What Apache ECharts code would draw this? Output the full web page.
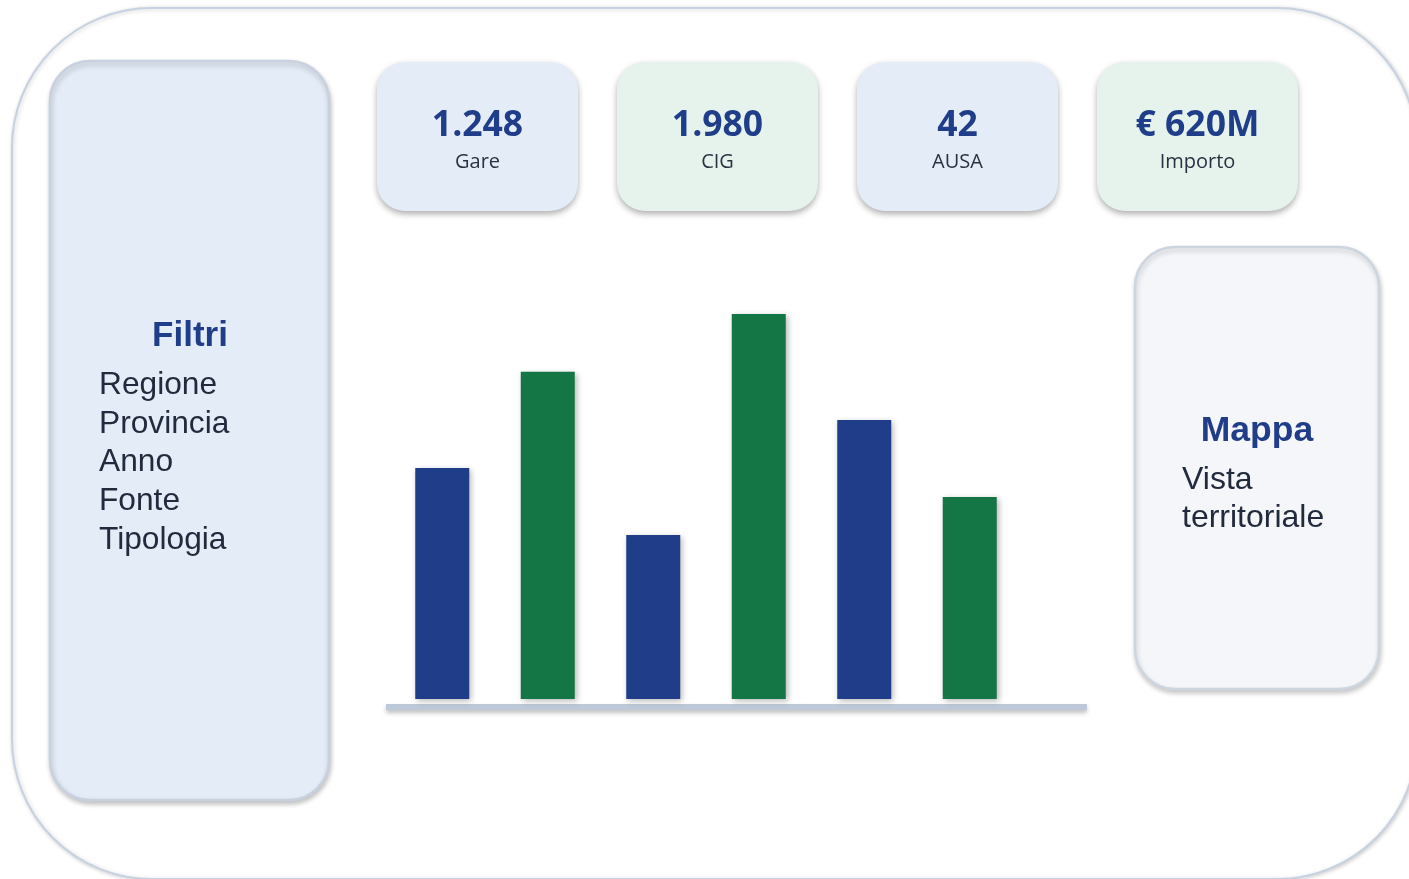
<!DOCTYPE html>
<html>
<head>
<meta charset="utf-8">
<script src="https://cdn.jsdelivr.net/npm/echarts@6/dist/echarts.min.js"></script>
<style>
html,body{margin:0;padding:0;background:#fff;}
#chart{width:1409px;height:879px;}
</style>
</head>
<body>
<div id="chart"></div>
<script>
// ---- data ----
var categories = ['A', 'B', 'C', 'D', 'E', 'F'];
var barValues = [60, 85, 42.6, 100, 72.5, 52.5];
var barColors = ['#1f3d89', '#147545', '#1f3d89', '#147545', '#1f3d89', '#147545'];
var kpiValues = ['1.248', '1.980', '42', '€ 620M'];
var kpiLabels = ['Gare', 'CIG', 'AUSA', 'Importo'];
var filterTitle = 'Filtri';
var filterItems = ['Regione', 'Provincia', 'Anno', 'Fonte', 'Tipologia'];
var mapTitle = 'Mappa';
var mapLines = ['Vista', 'territoriale'];

// ---- layout ----
var chart = echarts.init(document.getElementById('chart'), null, {renderer: 'canvas'});
var graphics = [];

// outer frame
graphics.push({
  type: 'rect', z: 0,
  shape: {x: 12, y: 8, width: 1405, height: 871, r: 140},
  style: {fill: '#ffffff', stroke: '#c6d1e2', lineWidth: 2,
    shadowBlur: 4, shadowColor: 'rgba(0,0,0,0.18)', shadowOffsetX: 1, shadowOffsetY: 1}
});

// filter panel
graphics.push({
  type: 'rect', z: 1,
  shape: {x: 50, y: 61, width: 279, height: 739, r: 40},
  style: {fill: '#e4ecf7', stroke: '#c7d1df', lineWidth: 2.5,
    shadowBlur: 5, shadowColor: 'rgba(0,0,0,0.22)', shadowOffsetX: 1, shadowOffsetY: 3}
});
graphics.push({
  type: 'text', z: 2,
  style: {x: 190, y: 336, text: filterTitle, fill: '#1f3d89',
    font: 'bold 35px "Liberation Sans", Arial, sans-serif', align: 'center', verticalAlign: 'middle'}
});
filterItems.forEach(function (t, i) {
  graphics.push({
    type: 'text', z: 2,
    style: {x: 99, y: 385.5 + i * 38.6, text: t, fill: '#222b3d',
      font: '31.7px "Liberation Sans", Arial, sans-serif', align: 'left', verticalAlign: 'middle'}
  });
});

// KPI cards
var cardX = [377, 617, 857, 1097];
var cardFill = ['#e4ecf7', '#e5f3ec', '#e4ecf7', '#e5f3ec'];
kpiValues.forEach(function (v, i) {
  graphics.push({
    type: 'rect', z: 1,
    shape: {x: cardX[i], y: 62, width: 201, height: 149, r: 28},
    style: {fill: cardFill[i], shadowBlur: 6, shadowColor: 'rgba(0,0,0,0.32)', shadowOffsetX: 0, shadowOffsetY: 3}
  });
  graphics.push({
    type: 'text', z: 2,
    style: {x: cardX[i] + 100.5, y: 125.5, text: v, fill: '#1f3d89',
      font: 'bold 35.5px "Open Sans", sans-serif', align: 'center', verticalAlign: 'middle'}
  });
  graphics.push({
    type: 'text', z: 2,
    style: {x: cardX[i] + 100.5, y: 162, text: kpiLabels[i], fill: '#2b3142',
      font: '20px "Open Sans", sans-serif', align: 'center', verticalAlign: 'middle'}
  });
});

// map panel
graphics.push({
  type: 'rect', z: 1,
  shape: {x: 1135, y: 247, width: 244, height: 442, r: 40},
  style: {fill: '#f4f6fa', stroke: '#cdd5e1', lineWidth: 2.5,
    shadowBlur: 5, shadowColor: 'rgba(0,0,0,0.2)', shadowOffsetX: 1, shadowOffsetY: 3}
});
graphics.push({
  type: 'text', z: 2,
  style: {x: 1257, y: 431, text: mapTitle, fill: '#1f3d89',
    font: 'bold 35.5px "Liberation Sans", Arial, sans-serif', align: 'center', verticalAlign: 'middle'}
});
mapLines.forEach(function (t, i) {
  graphics.push({
    type: 'text', z: 2,
    style: {x: 1182, y: 480.5 + i * 37.5, text: t, fill: '#222b3d',
      font: '32px "Liberation Sans", Arial, sans-serif', align: 'left', verticalAlign: 'middle'}
  });
});

var option = {
  animation: false,
  backgroundColor: '#ffffff',
  graphic: graphics,
  grid: [
    {left: 389.5, width: 633, top: 314, height: 385},
    {left: 386, width: 701, top: 600, height: 107}
  ],
  xAxis: [
    {type: 'category', gridIndex: 0, data: categories,
      axisLine: {show: false}, axisTick: {show: false}, axisLabel: {show: false}, splitLine: {show: false}},
    {type: 'value', gridIndex: 1, min: 0, max: 1,
      axisLine: {show: true, onZero: false, lineStyle: {color: '#bdc8d8', width: 6, cap: 'butt',
        shadowBlur: 4, shadowColor: 'rgba(0,0,0,0.25)', shadowOffsetY: 3}},
      axisTick: {show: false}, axisLabel: {show: false}, splitLine: {show: false}}
  ],
  yAxis: [
    {type: 'value', gridIndex: 0, min: 0, max: 100,
      axisLine: {show: false}, axisTick: {show: false}, axisLabel: {show: false}, splitLine: {show: false}},
    {type: 'value', gridIndex: 1, min: 0, max: 1, show: false}
  ],
  series: [{
    type: 'bar',
    xAxisIndex: 0, yAxisIndex: 0,
    barWidth: 54,
    z: 3,
    data: barValues.map(function (v, i) {
      return {value: v, itemStyle: {color: barColors[i]}};
    }),
    itemStyle: {shadowBlur: 6, shadowColor: 'rgba(0,0,0,0.28)', shadowOffsetX: 2, shadowOffsetY: 2}
  }]
};
chart.setOption(option);
</script>
</body>
</html>
